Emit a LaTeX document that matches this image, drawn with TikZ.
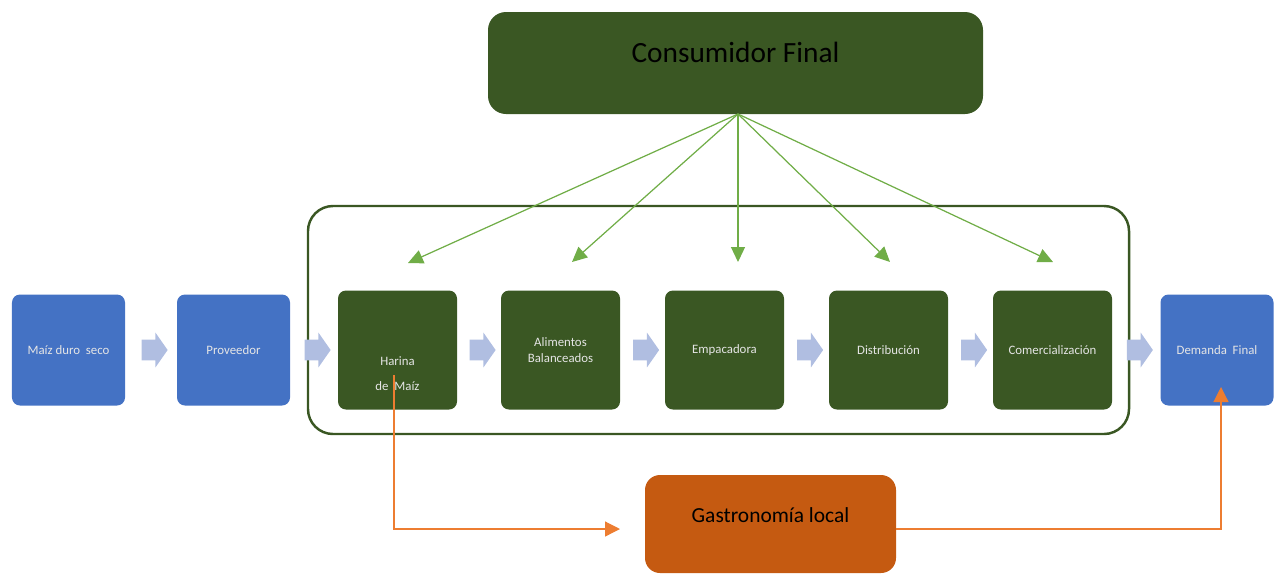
\documentclass[tikz,border=0pt]{standalone}
\usepackage{fontspec}
\setmainfont{Carlito}
\usetikzlibrary{arrows.meta,%
                shapes.arrows,%
                positioning}

\definecolor{azul}{HTML}{4472C4}
\definecolor{verde}{HTML}{3A5723}
\definecolor{verdeclaro}{HTML}{70AD47}
\definecolor{naranja}{HTML}{C55A11}
\definecolor{naranjaclaro}{HTML}{ED7D31}
\definecolor{bloqueazul}{HTML}{B0BEE1}

\tikzset{
  caja/.style={draw=none, rounded corners=1.6mm, inner sep=0pt,
    text=white!90!black, font=\fontsize{7.3}{8.8}\selectfont, align=center},
  cajaazul/.style={caja, fill=azul, minimum width=22.6mm, minimum height=22.2mm},
  cajaverde/.style={caja, fill=verde, minimum width=23.8mm, minimum height=23.8mm},
  bloque/.style={single arrow, fill=bloqueazul, draw=none, inner sep=0pt,
    minimum height=5.2mm, single arrow head extend=1.4mm,
    single arrow tip angle=110},
  flechaverde/.style={draw=verdeclaro, line width=.7pt,
    -{Triangle[width=2.8mm,length=3mm]}},
  flechanaranja/.style={draw=naranjaclaro, line width=.7pt,
    -{Triangle[width=3mm,length=3mm]}}
}

\begin{document}
\begin{tikzpicture}[x=.2mm,y=-.2mm]

      \useasboundingbox (0,0) rectangle (1276,573);

      % recuadro de la cadena
      \node[draw=verde, line width=1.4pt, rounded corners=5mm,
        minimum width=164.2mm, minimum height=45.6mm] (cadena) at (718.5,320) {};

      \node[cajaazul] (maiz) at (68.5,350) {Maíz duro\ \ seco};
      \node[cajaazul] (proveedor) at (233.5,350) {Proveedor};
      \node[cajaverde, label={[font=\fontsize{7.3}{14}\selectfont, text=white!90!black,
        align=center, yshift=-4.7mm]center:{Harina\\de\ \ Maíz}}] (harina) at (397.5,350) {};
      \node[cajaverde] (alimentos) at (560.5,350) {Alimentos\\Balanceados};
      \node[cajaverde] (empacadora) at (724.5,350) {Empacadora};
      \node[cajaverde] (distribucion) at (888.5,350) {Distribución};
      \node[cajaverde] (comercial) at (1052.5,350) {Comercialización};
      \node[cajaazul] (demanda) at (1217,350) {Demanda\ \ Final};

      \node[fill=verde, rounded corners=3.6mm, minimum width=99mm, minimum height=20.4mm,
        label={[font=\fontsize{16.7}{19}\selectfont, yshift=2.2mm]center:Consumidor Final}]
        (consumidor) at (735.5,63) {};

      \node[fill=naranja, rounded corners=3mm, minimum width=50.2mm, minimum height=19.6mm,
        label={[font=\fontsize{12.2}{14}\selectfont, yshift=1.8mm]center:Gastronomía local}]
        (gastro) at (770.5,524) {};

      % flechas de bloque
      \foreach \a/\b in {maiz/proveedor, proveedor/harina, harina/alimentos,
        alimentos/empacadora, empacadora/distribucion, distribucion/comercial,
        comercial/demanda}
      \path (\a) -- node[bloque] {\rule{0pt}{4mm}} (\b);

      % flechas desde el consumidor
      \coordinate (cs) at (738,114);
      \coordinate (t1) at (408,263);
      \coordinate (t2) at (572,262);
      \coordinate (t3) at (738,262);
      \coordinate (t4) at (890,262);
      \coordinate (t5) at (1053,262);
      \foreach \t in {t1,t2,t3,t4,t5}
      \draw[flechaverde] (cs) -- (\t);

      % gastronomia
      \coordinate (hs) at (394,375);
      \coordinate (ga) at (620,529);
      \coordinate (gb) at (896,529);
      \coordinate (de) at (1221,387);
      \draw[flechanaranja] (hs) |- (ga);
      \draw[flechanaranja] (gb) -| (de);

    \end{tikzpicture}
\end{document}
